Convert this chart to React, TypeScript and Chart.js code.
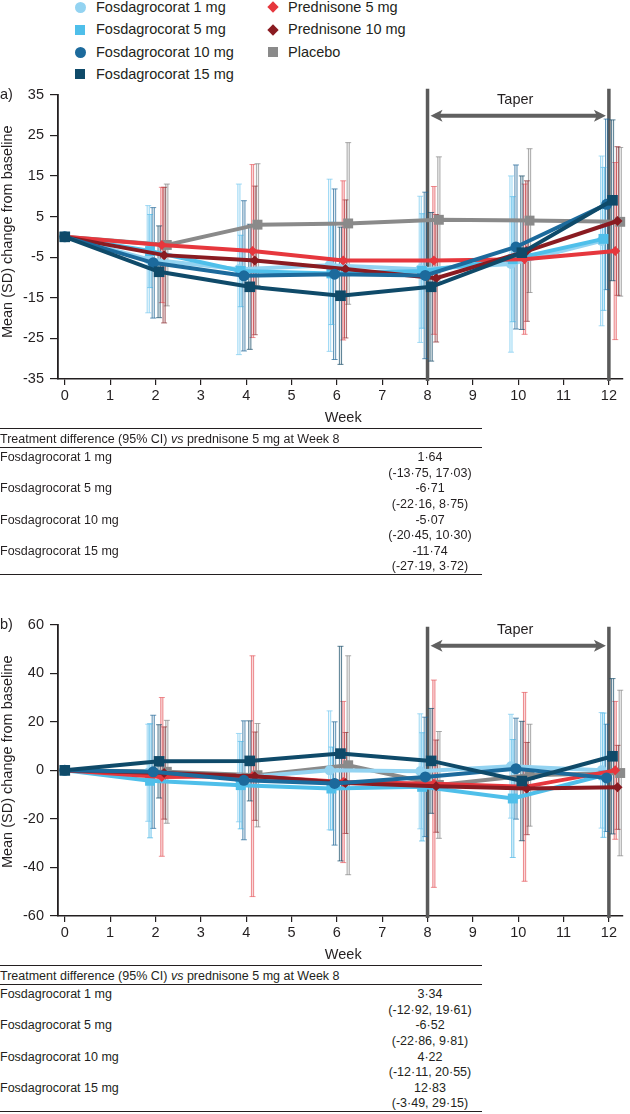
import React, { useEffect, useRef } from "react";
import { Chart, registerables } from "chart.js";
Chart.register(...registerables);

const FONT = '"Liberation Sans", Arial, Helvetica, sans-serif';
const TEXT = "#231f20";

// ---------- data ----------
const weeks = [0, 2, 4, 6, 8, 10, 12];
const xTicks = [0, 1, 2, 3, 4, 5, 6, 7, 8, 9, 10, 11, 12];
const seriesNames = [
  "Fosdagrocorat 1 mg",
  "Fosdagrocorat 5 mg",
  "Fosdagrocorat 10 mg",
  "Fosdagrocorat 15 mg",
  "Prednisone 5 mg",
  "Prednisone 10 mg",
  "Placebo",
];
const yTitle = "Mean (SD) change from baseline";
const xTitle = "Week";
const taperLabel = "Taper";
const taperStart = 8;
const taperEnd = 12;

// Panel a: means
const aMean1 = [0, -5.5, -8.0, -7.0, -8.0, -6.7, -1.0];
const aMean5 = [0, -3.5, -8.4, -9.0, -8.4, -5.5, -0.5];
const aMean10 = [0, -6.4, -9.6, -9.2, -9.5, -2.5, 8.0];
const aMean15 = [0, -8.6, -12.3, -14.5, -12.3, -3.9, 9.0];
const aMeanP5 = [0, -2.0, -3.5, -5.8, -5.8, -5.5, -3.5];
const aMeanP10 = [0, -4.5, -5.8, -7.9, -10.2, -3.5, 3.9];
const aMeanPbo = [0, -2.0, 3.0, 3.3, 4.2, 4.0, 3.7];
// Panel a: SD
const aSd1 = [0, 13.2, 21.0, 21.2, 18.0, 21.7, 20.9];
const aSd5 = [0, 9.0, 8.8, 12.6, 14.1, 15.4, 17.6];
const aSd10 = [0, 13.6, 18.5, 21.0, 20.5, 20.2, 21.0];
const aSd15 = [0, 11.3, 15.4, 16.9, 18.3, 18.9, 19.8];
const aSdP5 = [0, 14.2, 21.3, 19.6, 18.2, 18.5, 21.8];
const aSdP10 = [0, 16.7, 18.3, 17.0, 15.7, 17.3, 18.3];
const aSdPbo = [0, 15.0, 15.0, 19.9, 15.5, 17.7, 18.3];

// Panel b: means
const bMean1 = [0, -1.0, -3.0, 0.0, -0.4, 1.7, 0.0];
const bMean5 = [0, -4.3, -6.1, -7.5, -6.8, -11.6, -2.0];
const bMean10 = [0, -0.6, -4.1, -5.4, -2.7, 0.7, -3.1];
const bMean15 = [0, 3.7, 3.9, 6.9, 3.9, -4.4, 5.8];
const bMeanP5 = [0, -2.7, -2.4, -4.8, -5.5, -6.8, 0.0];
const bMeanP10 = [0, -1.1, -2.4, -5.2, -6.5, -7.5, -7.0];
const bMeanPbo = [0, -0.6, -2.0, 2.1, -6.0, -2.0, -1.1];
// Panel b: SD
const bSd1 = [0, 20.0, 18.2, 24.5, 23.7, 21.4, 23.8];
const bSd5 = [0, 23.5, 18.0, 17.1, 22.3, 24.3, 25.6];
const bSd10 = [0, 23.3, 24.5, 25.4, 24.6, 20.8, 22.1];
const bSd15 = [0, 15.1, 16.5, 44.2, 21.6, 24.6, 32.0];
const bSdP5 = [0, 32.7, 49.6, 33.2, 42.7, 38.9, 28.4];
const bSdP10 = [0, 19.0, 18.2, 20.8, 19.0, 19.0, 17.3];
const bSdPbo = [0, 21.2, 21.3, 45.1, 22.0, 21.0, 34.1];

// Tables
const tableHeaderPre = "Treatment difference (95% CI) ";
const tableHeaderIt = "vs";
const tableHeaderPost = " prednisone 5 mg at Week 8";
const tableLabels = ["Fosdagrocorat 1 mg", "Fosdagrocorat 5 mg", "Fosdagrocorat 10 mg", "Fosdagrocorat 15 mg"];
const tableAEst = ["1·64", "-6·71", "-5·07", "-11·74"];
const tableACi = ["(-13·75, 17·03)", "(-22·16, 8·75)", "(-20·45, 10·30)", "(-27·19, 3·72)"];
const tableBEst = ["3·34", "-6·52", "4·22", "12·83"];
const tableBCi = ["(-12·92, 19·61)", "(-22·86, 9·81)", "(-12·11, 20·55)", "(-3·49, 29·15)"];

// ---------- styles ----------
const seriesColors = ["#93d3f1", "#4fbfea", "#1c6a9c", "#0f4a69", "#e6373d", "#8a1b21", "#8a8a8a"];
const errColors = [
  "rgba(120,200,238,0.85)",
  "rgba(70,180,228,0.85)",
  "rgba(28,100,150,0.85)",
  "rgba(15,70,100,0.85)",
  "rgba(225,60,65,0.7)",
  "rgba(130,30,35,0.8)",
  "rgba(125,125,125,0.8)",
];
const errFills = [
  "rgba(150,215,245,0.2)",
  "rgba(90,190,235,0.2)",
  "rgba(28,100,150,0.12)",
  "rgba(15,70,100,0.12)",
  "rgba(240,140,145,0.35)",
  "rgba(130,30,35,0.15)",
  "rgba(150,150,150,0.15)",
];
const pointStyles = ["circle", "rect", "circle", "rect", "rectRot", "rectRot", "rect"];
const pointRadii = [5, 7, 5.5, 7.5, 5, 5, 7];
const dodge = [-0.16, -0.12, -0.05, 0.08, 0.14, 0.19, 0.25];
const drawOrder = [5, 4, 1, 0, 3, 2, 6];

type PanelProps = {
  top: number;
  height: number;
  padTop: number;
  plotH: number;
  means: number[][];
  sds: number[][];
  yMin: number;
  yMax: number;
  yStep: number;
  label: string;
  lineTopOff: number;
};

function Panel(p: PanelProps) {
  const ref = useRef<HTMLCanvasElement>(null);
  useEffect(() => {
    const canvas = ref.current!;
    const datasets = seriesNames.map((name, i) => ({
      label: name,
      data: weeks.map((w, j) => ({ x: w === 0 ? w : w + dodge[i], y: p.means[i][j] })),
      borderColor: seriesColors[i],
      backgroundColor: seriesColors[i],
      pointBackgroundColor: seriesColors[i],
      pointBorderColor: seriesColors[i],
      pointStyle: pointStyles[i],
      pointRadius: pointRadii[i],
      pointBorderWidth: 0,
      borderWidth: 4,
      tension: 0,
      clip: false as any,
      order: drawOrder[i],
    }));

    const extras = {
      id: "extras",
      beforeDatasetsDraw(chart: any) {
        const { ctx, chartArea: ca, scales } = chart;
        const xs = scales.x;
        const ys = scales.y;
        ctx.save();
        // taper vertical lines
        ctx.strokeStyle = "#5a5a5a";
        ctx.lineWidth = 3.5;
        [taperStart, taperEnd].forEach((w) => {
          const px = xs.getPixelForValue(w);
          ctx.beginPath();
          ctx.moveTo(px, ca.top + p.lineTopOff);
          ctx.lineTo(px, ca.bottom + 2);
          ctx.stroke();
        });
        // error bars
        for (let i = seriesNames.length - 1; i >= 0; i--) {
          weeks.forEach((w, j) => {
            const sd = p.sds[i][j];
            if (!sd) return;
            const m = p.means[i][j];
            const px = xs.getPixelForValue(w + dodge[i]);
            const yT = ys.getPixelForValue(m + sd);
            const yB = ys.getPixelForValue(m - sd);
            ctx.fillStyle = errFills[i];
            ctx.fillRect(px - 1.1, yT, 2.2, yB - yT);
            ctx.strokeStyle = errColors[i];
            ctx.lineWidth = 0.8;
            ctx.beginPath();
            ctx.moveTo(px - 1.1, yT);
            ctx.lineTo(px - 1.1, yB);
            ctx.moveTo(px + 1.1, yT);
            ctx.lineTo(px + 1.1, yB);
            ctx.moveTo(px - 3, yT);
            ctx.lineTo(px + 3, yT);
            ctx.moveTo(px - 3, yB);
            ctx.lineTo(px + 3, yB);
            ctx.stroke();
          });
        }
        ctx.restore();
      },
      afterDraw(chart: any) {
        const { ctx, chartArea: ca, scales } = chart;
        const xs = scales.x;
        const ys = scales.y;
        ctx.save();
        ctx.fillStyle = TEXT;
        ctx.font = `14.5px ${FONT}`;
        ctx.textBaseline = "middle";
        ctx.textAlign = "left";
        ctx.fillText(p.label, 0, ys.getPixelForValue(p.yMax));
        // y title
        ctx.save();
        ctx.translate(8, ca.top + 137);
        ctx.rotate(-Math.PI / 2);
        ctx.textAlign = "center";
        ctx.fillText(yTitle, 0, 0);
        ctx.restore();
        // x title
        ctx.textAlign = "center";
        ctx.fillText(xTitle, (ca.left + ca.right) / 2 + 3, ca.bottom + 39);
        // taper arrow
        const x8 = xs.getPixelForValue(taperStart);
        const x12 = xs.getPixelForValue(taperEnd);
        const ay = ca.top + 21;
        ctx.strokeStyle = "#606060";
        ctx.fillStyle = "#606060";
        ctx.lineWidth = 4;
        ctx.beginPath();
        ctx.moveTo(x8 + 8, ay);
        ctx.lineTo(x12 - 8, ay);
        ctx.stroke();
        ctx.beginPath();
        ctx.moveTo(x8 + 3, ay);
        ctx.lineTo(x8 + 15, ay - 6);
        ctx.lineTo(x8 + 12, ay);
        ctx.lineTo(x8 + 15, ay + 6);
        ctx.closePath();
        ctx.fill();
        ctx.beginPath();
        ctx.moveTo(x12 - 3, ay);
        ctx.lineTo(x12 - 15, ay - 6);
        ctx.lineTo(x12 - 12, ay);
        ctx.lineTo(x12 - 15, ay + 6);
        ctx.closePath();
        ctx.fill();
        ctx.fillStyle = TEXT;
        ctx.fillText(taperLabel, xs.getPixelForValue((taperStart + taperEnd) / 2) - 3, ca.top + 5);
        ctx.restore();
      },
    };

    const axisH = p.height - p.padTop - p.plotH;
    const chart = new Chart(canvas, {
      type: "line",
      data: { datasets: datasets as any },
      options: {
        animation: false,
        responsive: true,
        maintainAspectRatio: false,
        layout: { padding: { top: p.padTop, right: 7, left: 0, bottom: 0 } },
        plugins: { legend: { display: false }, tooltip: { enabled: false } },
        scales: {
          x: {
            type: "linear",
            min: -0.15,
            max: 12.3,
            afterBuildTicks: (s: any) => {
              s.ticks = xTicks.map((v) => ({ value: v }));
            },
            afterFit: (s: any) => {
              s.height = axisH;
            },
            ticks: {
              stepSize: 1,
              includeBounds: false,
              color: TEXT,
              font: { family: FONT, size: 14.5 },
              padding: 2,
              maxRotation: 0,
            },
            grid: { drawOnChartArea: false, drawTicks: true, tickLength: 6, color: TEXT, lineWidth: 1.2 },
            border: { color: TEXT, width: 1.6 },
          },
          y: {
            type: "linear",
            min: p.yMin,
            max: p.yMax,
            afterFit: (s: any) => {
              s.width = 58;
            },
            ticks: {
              stepSize: p.yStep,
              color: TEXT,
              font: { family: FONT, size: 14.5 },
              padding: 6,
            },
            grid: { drawOnChartArea: false, drawTicks: true, tickLength: 8, color: TEXT, lineWidth: 1.2 },
            border: { color: TEXT, width: 1.8 },
          },
        },
      },
      plugins: [extras as any],
    });
    return () => chart.destroy();
  }, []);
  return (
    <div style={{ position: "absolute", left: 0, top: p.top, width: 630, height: p.height }}>
      <canvas ref={ref} />
    </div>
  );
}

function Txt(props: { x: number; cy: number; size: number; children: any; center?: boolean; w?: number }) {
  const lh = props.size + 4;
  const style: any = {
    position: "absolute",
    top: props.cy - lh / 2,
    lineHeight: `${lh}px`,
    fontSize: props.size,
    fontFamily: FONT,
    color: TEXT,
    whiteSpace: "nowrap",
  };
  if (props.center) {
    const w = props.w || 200;
    style.left = props.x - w / 2;
    style.width = w;
    style.textAlign = "center";
  } else {
    style.left = props.x;
  }
  return <div style={style}>{props.children}</div>;
}

function Rule({ y }: { y: number }) {
  return <div style={{ position: "absolute", left: 0, top: y - 0.75, width: 482, height: 0, borderTop: `1.5px solid ${TEXT}` }} />;
}

function Table({ top, est, ci }: { top: number; est: string[]; ci: string[] }) {
  const pitch = 31.2;
  return (
    <>
      <Rule y={top} />
      <Txt x={0} cy={top + 10} size={12.5}>
        {tableHeaderPre}
        <i>{tableHeaderIt}</i>
        {tableHeaderPost}
      </Txt>
      <Rule y={top + 19} />
      {tableLabels.map((l, k) => (
        <React.Fragment key={k}>
          <Txt x={0} cy={top + 28.5 + k * pitch} size={12.5}>
            {l}
          </Txt>
          <Txt x={430} cy={top + 28.5 + k * pitch} size={12.5} center>
            {est[k]}
          </Txt>
          <Txt x={430} cy={top + 44 + k * pitch} size={12.5} center>
            {ci[k]}
          </Txt>
        </React.Fragment>
      ))}
      <Rule y={top + 146} />
    </>
  );
}

function Marker({ style, color, cx, cy }: { style: string; color: string; cx: number; cy: number }) {
  const s: any = { position: "absolute", background: color };
  if (style === "circle") {
    Object.assign(s, { left: cx - 5.5, top: cy - 5.5, width: 11, height: 11, borderRadius: "50%" });
  } else if (style === "rect") {
    Object.assign(s, { left: cx - 5, top: cy - 5, width: 10, height: 10 });
  } else {
    Object.assign(s, { left: cx - 4, top: cy - 4, width: 8, height: 8, transform: "rotate(45deg)" });
  }
  return <div style={s} />;
}

function Legend() {
  const col1 = [0, 1, 2, 3];
  const col2 = [4, 5, 6];
  const rowY = [7, 29.5, 52, 74];
  return (
    <>
      {col1.map((i, r) => (
        <React.Fragment key={i}>
          <Marker style={pointStyles[i]} color={seriesColors[i]} cx={80} cy={rowY[r]} />
          <Txt x={96} cy={rowY[r]} size={14.5}>
            {seriesNames[i]}
          </Txt>
        </React.Fragment>
      ))}
      {col2.map((i, r) => (
        <React.Fragment key={i}>
          <Marker style={pointStyles[i]} color={seriesColors[i]} cx={273} cy={rowY[r]} />
          <Txt x={288} cy={rowY[r]} size={14.5}>
            {seriesNames[i]}
          </Txt>
        </React.Fragment>
      ))}
    </>
  );
}

export default function App() {
  const aMeans = [aMean1, aMean5, aMean10, aMean15, aMeanP5, aMeanP10, aMeanPbo];
  const aSds = [aSd1, aSd5, aSd10, aSd15, aSdP5, aSdP10, aSdPbo];
  const bMeans = [bMean1, bMean5, bMean10, bMean15, bMeanP5, bMeanP10, bMeanPbo];
  const bSds = [bSd1, bSd5, bSd10, bSd15, bSdP5, bSdP10, bSdPbo];
  return (
    <div style={{ position: "absolute", left: 0, top: 0, width: 630, height: 1114, background: "#fff", overflow: "hidden" }}>
      <Legend />
      <Panel top={80} height={350} padTop={14} plotH={285} means={aMeans} sds={aSds} yMin={-35} yMax={35} yStep={10} label="a)" lineTopOff={-6} />
      <Table top={429} est={tableAEst} ci={tableACi} />
      <Panel top={610} height={350} padTop={14} plotH={292} means={bMeans} sds={bSds} yMin={-60} yMax={60} yStep={20} label="b)" lineTopOff={2} />
      <Table top={966} est={tableBEst} ci={tableBCi} />
    </div>
  );
}
